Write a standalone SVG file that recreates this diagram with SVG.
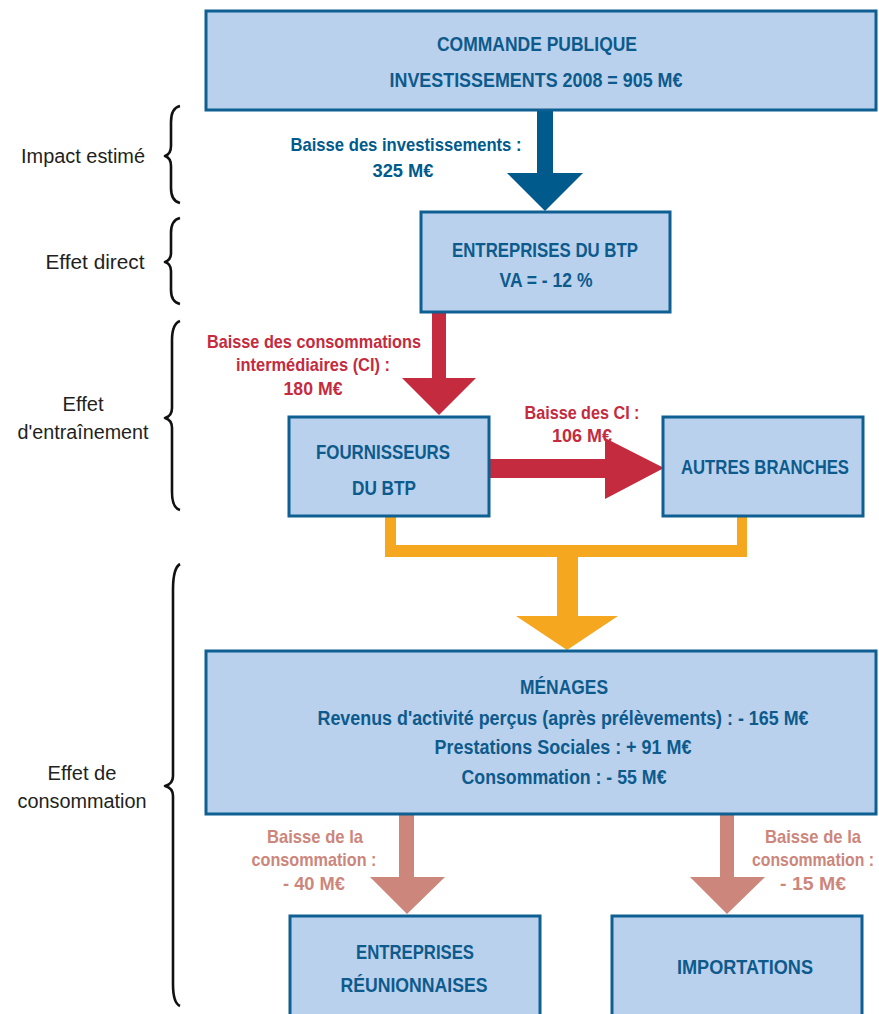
<svg xmlns="http://www.w3.org/2000/svg" width="879" height="1014" viewBox="0 0 879 1014">
<style>
.box{fill:#b9d1ec;stroke:#0e5f92;stroke-width:3}
.bt{font-family:"Liberation Sans",Arial,sans-serif;font-weight:bold;font-size:20px;fill:#0d5a8c;text-anchor:middle}
.lb{font-family:"Liberation Sans",Arial,sans-serif;font-weight:bold;font-size:18.5px;text-anchor:middle}
.side{font-family:"Liberation Sans",Arial,sans-serif;font-size:19.5px;fill:#231f20;text-anchor:middle}
.brace{fill:none;stroke:#111;stroke-width:2.6;stroke-linejoin:round}
</style>
<rect width="879" height="1014" fill="#fff"/>

<g id="side-labels">
<text class="side" x="83" y="163" textLength="124" lengthAdjust="spacingAndGlyphs">Impact estimé</text>
<text class="side" x="95" y="269" textLength="99" lengthAdjust="spacingAndGlyphs">Effet direct</text>
<text class="side" x="83" y="411" textLength="41" lengthAdjust="spacingAndGlyphs">Effet</text>
<text class="side" x="83" y="439" textLength="131" lengthAdjust="spacingAndGlyphs">d'entraînement</text>
<text class="side" x="82" y="780" textLength="69" lengthAdjust="spacingAndGlyphs">Effet de</text>
<text class="side" x="82" y="808" textLength="129" lengthAdjust="spacingAndGlyphs">consommation</text>
<path class="brace" d="M180,106 Q171,108 171,122 L171,146 Q171,154 165,156 Q171,158 171,166 L171,188 Q171,201 180,203"/>
<path class="brace" d="M180,218 Q171,220 171,233 L171,253 Q171,260 165,262 Q171,264 171,271 L171,290 Q171,302 180,304"/>
<path class="brace" d="M180,321 Q172,324 172,340 L172,408 Q172,416 165,418 Q172,420 172,428 L172,492 Q172,508 180,510"/>
<path class="brace" d="M180,564 Q173,568 173,590 L173,776 Q173,784 165,786 Q173,788 173,796 L173,984 Q173,1003 180,1006"/>
</g>

<g id="connectors">
<path d="M537,110 H553 V173 H583 L545,211 L507,173 H537 Z" fill="#005a8c"/>
<path d="M432,312 H446 V378 H476 L439,415 L402,378 H432 Z" fill="#c42b3e"/>
<path d="M490,459 H605 V438 L664,468 L605,499 V478 H490 Z" fill="#c42b3e"/>
<path d="M385,516 V557 H747 V516 H737 V545 H396 V516 Z" fill="#f5a71f"/>
<path d="M557,557 H578 V616 H618 L567,650 L516,616 H557 Z" fill="#f5a71f"/>
<path d="M399,815 H414 V877 H445 L407,914 L370,877 H399 Z" fill="#cc867b"/>
<path d="M720,815 H734 V877 H765 L727,914 L690,877 H720 Z" fill="#cc867b"/>
<g fill="#005a8c">
<text class="lb" x="406" y="151" textLength="231" lengthAdjust="spacingAndGlyphs">Baisse des investissements :</text>
<text class="lb" x="403" y="177" textLength="61" lengthAdjust="spacingAndGlyphs">325 M€</text>
</g>
<g fill="#c42b3e">
<text class="lb" x="314" y="348" textLength="214" lengthAdjust="spacingAndGlyphs">Baisse des consommations</text>
<text class="lb" x="313" y="371" textLength="154" lengthAdjust="spacingAndGlyphs">intermédiaires (CI) :</text>
<text class="lb" x="313" y="395" textLength="59" lengthAdjust="spacingAndGlyphs">180 M€</text>
<text class="lb" x="582" y="419" textLength="115" lengthAdjust="spacingAndGlyphs">Baisse des CI :</text>
<text class="lb" x="582" y="442" textLength="60" lengthAdjust="spacingAndGlyphs">106 M€</text>
</g>
<g fill="#cc867b">
<text class="lb" x="315" y="843" textLength="96" lengthAdjust="spacingAndGlyphs">Baisse de la</text>
<text class="lb" x="314" y="866" textLength="125" lengthAdjust="spacingAndGlyphs">consommation :</text>
<text class="lb" x="314" y="890" textLength="62" lengthAdjust="spacingAndGlyphs">- 40 M€</text>
<text class="lb" x="813" y="843" textLength="96" lengthAdjust="spacingAndGlyphs">Baisse de la</text>
<text class="lb" transform="translate(813,866) scale(0.854,1)" x="0" y="0">consommation :</text>
<text class="lb" x="813" y="890" textLength="66" lengthAdjust="spacingAndGlyphs">-  15 M€</text>
</g>
</g>

<g id="commande-publique">
<rect class="box" x="206" y="11" width="670" height="99"/>
<text class="bt" x="537" y="51" textLength="200" lengthAdjust="spacingAndGlyphs">COMMANDE PUBLIQUE</text>
<text class="bt" x="536" y="87" textLength="293" lengthAdjust="spacingAndGlyphs">INVESTISSEMENTS 2008 = 905 M€</text>
</g>

<g id="entreprises-btp">
<rect class="box" x="421" y="212" width="249" height="100"/>
<text class="bt" x="545" y="257" textLength="186" lengthAdjust="spacingAndGlyphs">ENTREPRISES DU BTP</text>
<text class="bt" x="546" y="287" textLength="93" lengthAdjust="spacingAndGlyphs">VA = - 12 %</text>
</g>

<g id="fournisseurs-btp">
<rect class="box" x="289" y="417" width="200" height="99"/>
<text class="bt" x="383" y="459" textLength="134" lengthAdjust="spacingAndGlyphs">FOURNISSEURS</text>
<text class="bt" x="384" y="495" textLength="64" lengthAdjust="spacingAndGlyphs">DU BTP</text>
</g>

<g id="autres-branches">
<rect class="box" x="663" y="417" width="200" height="99"/>
<text class="bt" transform="translate(765,474) scale(0.836,1)" x="0" y="0">AUTRES BRANCHES</text>
</g>

<g id="menages">
<rect class="box" x="206" y="651" width="670" height="163"/>
<text class="bt" x="564" y="694" textLength="88" lengthAdjust="spacingAndGlyphs">MÉNAGES</text>
<text class="bt" x="563" y="725" textLength="491" lengthAdjust="spacingAndGlyphs">Revenus d'activité perçus (après prélèvements) : - 165 M€</text>
<text class="bt" x="563" y="754" textLength="257" lengthAdjust="spacingAndGlyphs">Prestations Sociales : + 91 M€</text>
<text class="bt" x="564" y="784" textLength="205" lengthAdjust="spacingAndGlyphs">Consommation : - 55 M€</text>
</g>

<g id="entreprises-reunionnaises">
<rect class="box" x="290" y="916" width="250" height="110"/>
<text class="bt" x="415" y="959" textLength="118" lengthAdjust="spacingAndGlyphs">ENTREPRISES</text>
<text class="bt" x="414" y="992" textLength="147" lengthAdjust="spacingAndGlyphs">RÉUNIONNAISES</text>
</g>

<g id="importations">
<rect class="box" x="612" y="916" width="250" height="110"/>
<text class="bt" x="745" y="974" textLength="136" lengthAdjust="spacingAndGlyphs">IMPORTATIONS</text>
</g>
</svg>
